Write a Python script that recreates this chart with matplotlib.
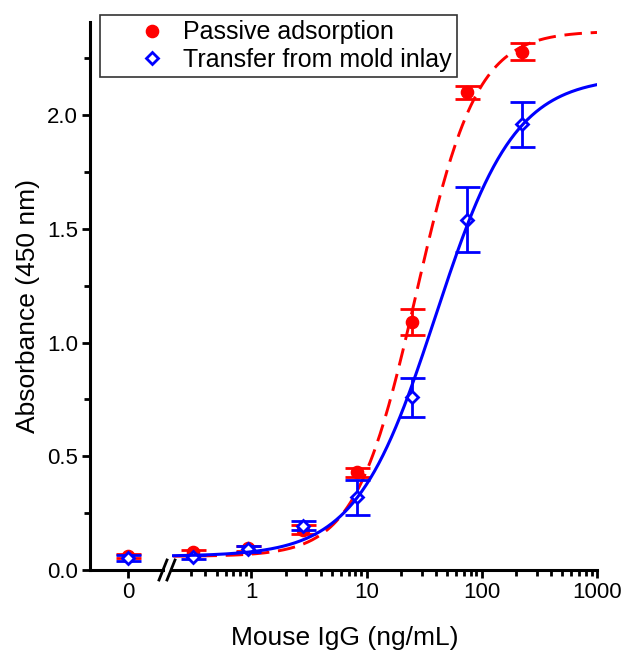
import numpy as np
import matplotlib.pyplot as plt
from matplotlib.lines import Line2D

plt.rcParams['font.family'] = ['Liberation Sans', 'DejaVu Sans']

# IgG concentrations (ng/mL), 3-fold dilutions; the blank is drawn on a separate "0" axis
conc = [0.31, 0.93, 2.8, 8.3, 25, 75, 225]

passive_zero = 0.062
passive_zero_err = 0.01
passive = [0.078, 0.095, 0.178, 0.43, 1.09, 2.10, 2.28]
passive_err = [0.012, 0.01, 0.018, 0.02, 0.057, 0.03, 0.037]

transfer_zero = 0.052
transfer_zero_err = 0.012
transfer = [0.058, 0.092, 0.195, 0.32, 0.76, 1.54, 1.96]
transfer_err = [0.01, 0.012, 0.02, 0.077, 0.085, 0.143, 0.10]

# 4-parameter logistic fits: bottom, top, EC50, hill slope
passive_fit = (0.06, 2.37, 27.0, 1.65)
transfer_fit = (0.06, 2.17, 39.6, 1.26)


def logistic(x, p):
    bottom, top, x0, hill = p
    return top + (bottom - top) / (1 + (x / x0) ** hill)


W, H = 625, 650
fig = plt.figure(figsize=(W / 100, H / 100), dpi=100)

left, right, bot, top = 90, 597, 570, 22
brk_l, brk_r = 163, 172
ax0 = fig.add_axes([left / W, 1 - bot / H, (brk_l - left) / W, (bot - top) / H])
ax1 = fig.add_axes([brk_r / W, 1 - bot / H, (right - brk_r) / W, (bot - top) / H])

red = '#ff0000'
blue = '#0000ff'
ms_c = 8.8
ms_d = 6.6
cap = 9
tick_fs = 16

for ax in (ax0, ax1):
    ax.set_ylim(0, 2.41)
    for s in ('top', 'right'):
        ax.spines[s].set_visible(False)
    for s in ('left', 'bottom'):
        ax.spines[s].set_linewidth(2.2)
    ax.tick_params(which='major', direction='out', length=6, width=2,
                   labelsize=tick_fs, pad=2.5)
    ax.tick_params(which='minor', direction='out', length=4, width=2)

# zero axis
ax0.set_xlim(-0.52, 0.48)
ax0.set_xticks([0])
ax0.set_xticklabels(['0'])
ax0.set_yticks([0, 0.5, 1.0, 1.5, 2.0])
ax0.set_yticks(np.arange(0.25, 2.4, 0.5), minor=True)
ax0.set_yticklabels(['0.0', '0.5', '1.0', '1.5', '2.0'])

ax0.errorbar([0], [passive_zero], yerr=[passive_zero_err], fmt='o', color=red,
             ms=ms_c, capsize=cap, elinewidth=2, capthick=2, zorder=3)
ax0.errorbar([0], [transfer_zero], yerr=[transfer_zero_err], fmt='D', color=blue,
             mfc='white', mew=2, ms=ms_d, capsize=cap, elinewidth=2, capthick=2, zorder=4)

# log axis
ax1.set_xscale('log')
ax1.set_xlim(0.205, 1000)
ax1.spines['left'].set_visible(False)
ax1.tick_params(axis='y', which='both', left=False, labelleft=False)
ax1.set_xticks([1, 10, 100, 1000])
ax1.set_xticklabels(['1', '10', '100', '1000'])

xs = np.logspace(np.log10(0.21), 3, 300)
ax1.plot(xs, logistic(xs, passive_fit), color=red, lw=2.1, ls=(0, (6, 3)), zorder=2)
ax1.errorbar(conc, passive, yerr=passive_err, fmt='o', color=red, ms=ms_c,
             capsize=cap, elinewidth=2, capthick=2, zorder=3)
ax1.errorbar(conc, transfer, yerr=transfer_err, fmt='D', color=blue, mfc='white',
             mew=2, ms=ms_d, capsize=cap, elinewidth=2, capthick=2, zorder=4)
ax1.plot(xs, logistic(xs, transfer_fit), color=blue, lw=2.2, zorder=5)

# axis break marks
for dx in (0, 8):
    fig.add_artist(Line2D([(159 + dx) / W, (167 + dx) / W], [1 - 580 / H, 1 - 560 / H],
                          color='black', lw=2, transform=fig.transFigure))

fig.text(345 / W, 1 - 645 / H, 'Mouse IgG (ng/mL)', fontsize=19,
         ha='center', va='baseline')
fig.text(28 / W, 1 - 306 / H, 'Absorbance (450 nm)', fontsize=19,
         ha='center', va='center', rotation=90)

handles = [
    Line2D([], [], marker='o', ls='none', color=red, ms=ms_c),
    Line2D([], [], marker='D', ls='none', color=blue, mfc='white', mew=2, ms=ms_d),
]
leg = fig.legend(handles, ['Passive adsorption', 'Transfer from mold inlay'],
                 loc='upper left', bbox_to_anchor=(100 / W, 1 - 15 / H),
                 fontsize=18, frameon=True, fancybox=False, edgecolor='black',
                 borderpad=0.22, handletextpad=-0.6, labelspacing=0.12,
                 handlelength=3.7, borderaxespad=0)
leg.get_frame().set_linewidth(1.2)

fig.savefig('out.png', dpi=100)
